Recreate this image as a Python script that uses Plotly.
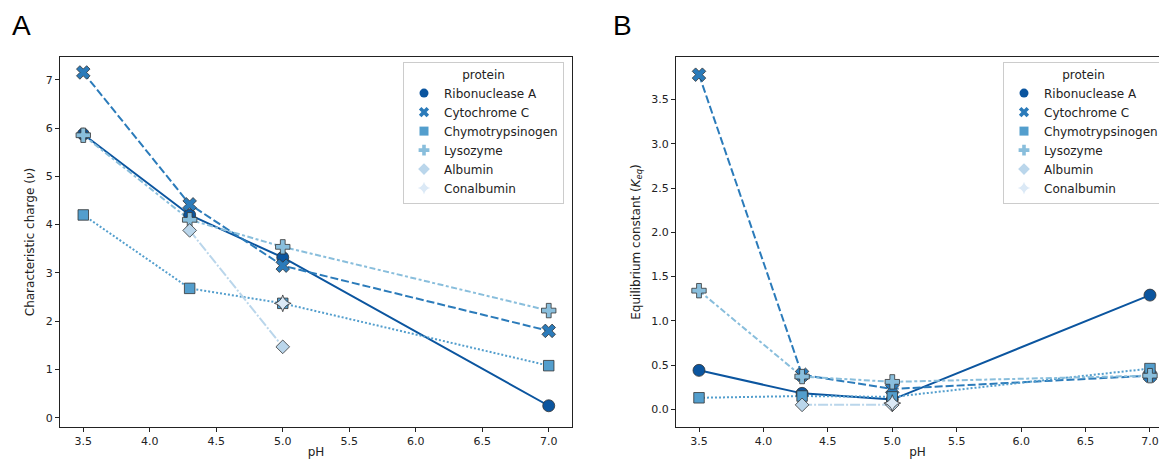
import plotly.graph_objects as go

proteins = ["Ribonuclease A", "Cytochrome C", "Chymotrypsinogen", "Lysozyme", "Albumin", "Conalbumin"]
colors = ["#0b559f", "#2b7bba", "#539ecd", "#89bedc", "#bad6eb", "#dbe9f6"]
symbols = ["circle", "x", "square", "cross", "diamond", "star-diamond"]
dashes = ["solid", "8px,3px", "2px,2px", "6px,2.5px,3px,2.5px", "10px,2px,2px,2px", "10px,2px,4px,2px,4px,2px"]

# Panel A: characteristic charge (nu)
ph_a = {
    "Ribonuclease A": [3.5, 4.3, 5.0, 7.0],
    "Cytochrome C": [3.5, 4.3, 5.0, 7.0],
    "Chymotrypsinogen": [3.5, 4.3, 5.0, 7.0],
    "Lysozyme": [3.5, 4.3, 5.0, 7.0],
    "Albumin": [4.3, 5.0],
    "Conalbumin": [5.0],
}
nu = {
    "Ribonuclease A": [5.87, 4.20, 3.32, 0.25],
    "Cytochrome C": [7.15, 4.42, 3.15, 1.80],
    "Chymotrypsinogen": [4.20, 2.68, 2.37, 1.08],
    "Lysozyme": [5.85, 4.10, 3.54, 2.22],
    "Albumin": [3.88, 1.47],
    "Conalbumin": [2.37],
}

# Panel B: equilibrium constant (K_eq)
ph_b = {
    "Ribonuclease A": [3.5, 4.3, 5.0, 7.0],
    "Cytochrome C": [3.5, 4.3, 5.0, 7.0],
    "Chymotrypsinogen": [3.5, 4.3, 5.0, 7.0],
    "Lysozyme": [3.5, 4.3, 5.0, 7.0],
    "Albumin": [4.3, 5.0],
    "Conalbumin": [5.0],
}
keq = {
    "Ribonuclease A": [0.44, 0.18, 0.11, 1.29],
    "Cytochrome C": [3.78, 0.39, 0.23, 0.38],
    "Chymotrypsinogen": [0.13, 0.15, 0.14, 0.46],
    "Lysozyme": [1.34, 0.37, 0.31, 0.38],
    "Albumin": [0.05, 0.05],
    "Conalbumin": [0.07],
}

x_ticks = [3.5, 4.0, 4.5, 5.0, 5.5, 6.0, 6.5, 7.0]
y_ticks_a = [0, 1, 2, 3, 4, 5, 6, 7]
y_ticks_b = [0.0, 0.5, 1.0, 1.5, 2.0, 2.5, 3.0, 3.5]

W, H = 1159, 459
font = "DejaVu Sans"
edge = "#333333"

fig = go.Figure()

for panel, (phd, vals, xa, ya, leg) in enumerate([
    (ph_a, nu, "x", "y", "legend"),
    (ph_b, keq, "x2", "y2", "legend2"),
]):
    # lines
    for i, p in enumerate(proteins):
        fig.add_trace(go.Scatter(
            x=phd[p], y=vals[p], mode="lines", xaxis=xa, yaxis=ya,
            line=dict(color=colors[i], width=2, dash=dashes[i]),
            showlegend=False, hoverinfo="skip"))
    # markers
    for i, p in enumerate(proteins):
        sz = 12 if symbols[i] in ("circle", "x", "cross", "star-diamond") else 10.5
        fig.add_trace(go.Scatter(
            x=phd[p], y=vals[p], mode="markers", xaxis=xa, yaxis=ya,
            name=p, showlegend=False,
            marker=dict(color=colors[i], symbol=symbols[i], size=sz,
                        line=dict(color=edge, width=0.8))))
    # legend entries (marker only, smaller, no edge)
    for i, p in enumerate(proteins):
        fig.add_trace(go.Scatter(
            x=[None], y=[None], mode="markers", xaxis=xa, yaxis=ya,
            name=p, legend=leg, showlegend=True,
            marker=dict(color=colors[i], symbol=symbols[i], size=9,
                        line=dict(color=colors[i], width=0))))

axis_common = dict(
    showgrid=False, zeroline=False, showline=True, linecolor="#222", linewidth=1,
    ticks="outside", ticklen=4, tickcolor="#222",
    tickfont=dict(family=font, size=11, color="#222"),
)

legend_common = dict(
    xanchor="left", yanchor="top",
    bgcolor="rgba(255,255,255,0.85)", bordercolor="#cccccc", borderwidth=1,
    font=dict(family=font, size=12, color="#222"),
    title=dict(text="protein", side="top center", font=dict(family=font, size=12)),
    tracegroupgap=0,
)

fig.update_layout(
    width=W, height=H,
    margin=dict(l=0, r=0, t=0, b=0, autoexpand=False),
    paper_bgcolor="white", plot_bgcolor="white",
    font=dict(family=font, size=12, color="#222"),
    xaxis=dict(domain=[60 / W, 572 / W], range=[3.325, 7.175],
               tickvals=x_ticks, ticktext=[f"{v:.1f}" for v in x_ticks],
               mirror=True, anchor="y",
               title=dict(text="pH", font=dict(family=font, size=12), standoff=4),
               **axis_common),
    yaxis=dict(domain=[1 - 427 / H, 1 - 57 / H], range=[-0.19, 7.47],
               tickvals=y_ticks_a, ticktext=[str(v) for v in y_ticks_a],
               mirror=True, anchor="x",
               title=dict(text="Characteristic charge (<i>ν</i>)", font=dict(family=font, size=12), standoff=8),
               **axis_common),
    xaxis2=dict(domain=[676 / W, 1.0], range=[3.3215, 7.07],
                tickvals=x_ticks, ticktext=[f"{v:.1f}" for v in x_ticks],
                mirror=True, anchor="y2",
                title=dict(text="pH", font=dict(family=font, size=12), standoff=4),
                **axis_common),
    yaxis2=dict(domain=[1 - 427 / H, 1 - 57 / H], range=[-0.2, 3.98],
                tickvals=y_ticks_b, ticktext=[f"{v:.1f}" for v in y_ticks_b],
                mirror=False, anchor="x2",
                title=dict(text="Equilibrium constant (<i>K</i><sub><i>eq</i></sub>)", font=dict(family=font, size=12), standoff=8),
                **axis_common),
    legend=dict(x=403 / W, y=1 - 62 / H, **legend_common),
    legend2=dict(x=1003 / W, y=1 - 62 / H, **legend_common),
    annotations=[
        dict(text="A", x=10 / W, y=1 - 8 / H, xref="paper", yref="paper",
             xanchor="left", yanchor="top", showarrow=False,
             font=dict(family="Liberation Sans", size=28, color="black")),
        dict(text="B", x=611 / W, y=1 - 8 / H, xref="paper", yref="paper",
             xanchor="left", yanchor="top", showarrow=False,
             font=dict(family="Liberation Sans", size=28, color="black")),
    ],
)

fig.write_html("out.html", config={"displayModeBar": False},
               post_script="document.body.style.margin='0';document.body.style.overflow='hidden';")
